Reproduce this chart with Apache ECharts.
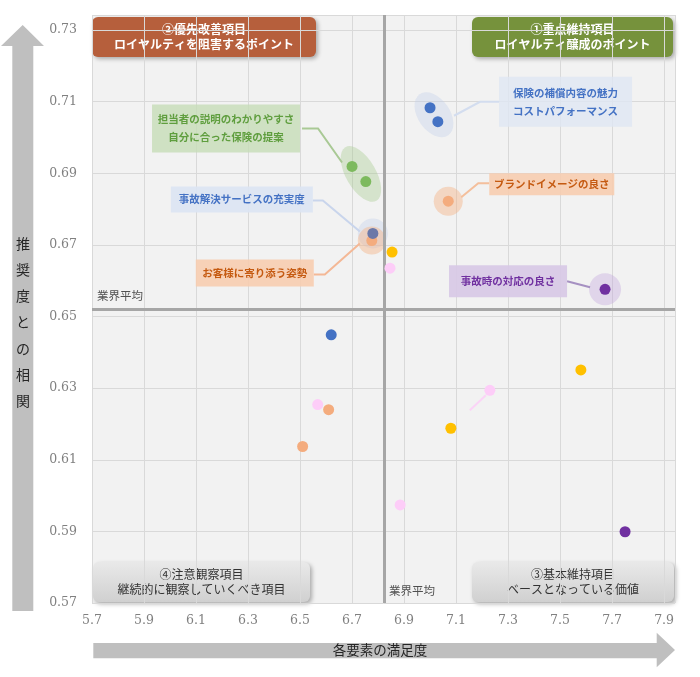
<!DOCTYPE html>
<html>
<head>
<meta charset="utf-8">
<script src="https://cdn.jsdelivr.net/npm/echarts@6/dist/echarts.min.js"></script>
<style>
html, body { margin: 0; padding: 0; background: #fff; }
#main { width: 700px; height: 677px; }
</style>
</head>
<body>
<div id="main"></div>
<script>
// 各要素の満足度 (x) と 推奨度との相関 (y)
var bluePoints = [[7.00, 0.7083], [7.03, 0.7044], [6.62, 0.6449]];
var slatePoints = [[6.78, 0.6732]];
var orangePoints = [[7.07, 0.6822], [6.776, 0.6712], [6.61, 0.6240], [6.51, 0.6137]];
var greenPoints = [[6.70, 0.6919], [6.753, 0.6877]];
var yellowPoints = [[6.854, 0.6680], [7.58, 0.6351], [7.08, 0.6188]];
var pinkPoints = [[6.846, 0.6635], [7.23, 0.6294], [6.568, 0.6254], [6.885, 0.5974]];
var purplePoints = [[7.673, 0.6576], [7.75, 0.5899]];

// 業界平均
var industryAvg = [6.823, 0.6521];

// 軸
var xRange = [5.7, 7.942];
var yRange = [0.57, 0.7342];
var xStep = 0.2;
var yStep = 0.02;

var annoTexts = [
	'担当者の説明のわかりやすさ\n自分に合った保険の提案',
	'事故解決サービスの充実度',
	'お客様に寄り添う姿勢',
	'保険の補償内容の魅力\nコストパフォーマンス',
	'ブランドイメージの良さ',
	'事故時の対応の良さ',
	''
];
var annoAnchors = [greenPoints[0], slatePoints[0], orangePoints[1], bluePoints[0], orangePoints[0], purplePoints[0], pinkPoints[1]];

var quadTitles = [
	'②優先改善項目\nロイヤルティを阻害するポイント',
	'①重点維持項目\nロイヤルティ醸成のポイント',
	'④注意観察項目\n継続的に観察していくべき項目',
	'③基本維持項目\nベースとなっている価値'
];

var CJK = '"Noto Sans CJK JP", sans-serif';

function mid(a, b) {
	return [(a[0] + b[0]) / 2, (a[1] + b[1]) / 2];
}

// 強調の楕円
var halos = [
	{ at: mid(bluePoints[0], bluePoints[1]), size: [32, 50], rotate: 35, color: 'rgba(190,205,232,0.45)' },
	{ at: mid(greenPoints[0], greenPoints[1]), size: [30, 62], rotate: 30, offset: [2, 0], color: 'rgba(160,200,135,0.45)' },
	{ at: slatePoints[0], size: [30, 30], color: 'rgba(190,205,232,0.45)' },
	{ at: orangePoints[1], size: [28, 28], color: 'rgba(244,177,131,0.55)' },
	{ at: orangePoints[0], size: [29, 29], color: 'rgba(244,177,131,0.55)' },
	{ at: purplePoints[0], size: [32, 32], color: 'rgba(190,160,220,0.45)' }
];

// 吹き出しの位置 (点からのピクセル差)
var annoLayout = [
	{ box: [-200, -62, 148, 48], line: [[-50, -38], [-34, -38], [-10, -4]], fill: 'rgba(197,220,182,0.8)', color: '#5f9e3e', stroke: '#a9c995' },
	{ box: [-202, -47, 142, 26], line: [[-60, -33], [-50, -33], [-13, -2]], fill: 'rgba(220,228,243,0.9)', color: '#4472c4', stroke: '#c9d5ec' },
	{ box: [-176, 19, 118, 27], line: [[-58, 34], [-47, 34], [-12, 3]], fill: 'rgba(248,203,173,0.85)', color: '#c55a11', stroke: '#f4b896' },
	{ box: [69, -31, 133, 50], line: [[24, 8], [50, -6], [69, -6]], fill: 'rgba(222,230,243,0.8)', color: '#4472c4', stroke: '#d3ddef' },
	{ box: [41, -28, 125, 22], line: [[13, -4], [30, -18], [41, -18]], fill: 'rgba(248,203,173,0.85)', color: '#c55a11', stroke: '#f4bf9c' },
	{ box: [-156, -24, 118, 32], line: [[-38, -8], [-15, -2]], fill: 'rgba(215,200,230,0.9)', color: '#7030a0', stroke: '#a691c2' },
	{ line: [[-4, 5], [-20, 20]], stroke: 'rgba(255,200,250,0.7)' }
];

function renderAnno(params, api) {
	var a = annoLayout[params.dataIndex];
	var p = api.coord([api.value(0), api.value(1)]);
	var pts = a.line.map(function (d) { return [p[0] + d[0], p[1] + d[1]]; });
	var children = [{
		type: 'polyline',
		shape: { points: pts },
		style: { stroke: a.stroke, lineWidth: 2, fill: null }
	}];
	if (a.box) {
		children.push({
			type: 'rect',
			shape: { x: p[0] + a.box[0], y: p[1] + a.box[1], width: a.box[2], height: a.box[3] },
			style: { fill: a.fill }
		});
		children.push({
			type: 'text',
			style: {
				text: annoTexts[params.dataIndex],
				x: p[0] + a.box[0] + a.box[2] / 2,
				y: p[1] + a.box[1] + a.box[3] / 2,
				align: 'center',
				verticalAlign: 'middle',
				fill: a.color,
				fontSize: 10.5,
				fontWeight: 'bold',
				fontFamily: CJK,
				lineHeight: 18
			}
		});
	}
	return { type: 'group', children: children };
}

function pointSeries(name, data, color) {
	return {
		name: name,
		type: 'scatter',
		data: data,
		symbolSize: 11,
		itemStyle: { color: color, opacity: 1 },
		z: 5
	};
}

function quadBox(left, top, w, h, fill, textColor, bold, text) {
	return {
		type: 'group',
		left: left,
		top: top,
		z: 10,
		children: [{
			type: 'rect',
			shape: { width: w, height: h, r: 6 },
			style: { fill: fill, shadowBlur: 4, shadowOffsetX: 2, shadowOffsetY: 2, shadowColor: 'rgba(0,0,0,0.3)' }
		}, {
			type: 'text',
			style: {
				text: text,
				x: w / 2,
				y: h / 2,
				align: 'center',
				verticalAlign: 'middle',
				fill: textColor,
				fontSize: 12,
				fontWeight: bold ? 'bold' : 'normal',
				fontFamily: CJK,
				lineHeight: 15.5
			}
		}]
	};
}

var grayFill = new echarts.graphic.LinearGradient(0, 0, 0, 1, [
	{ offset: 0, color: '#e9e9e9' },
	{ offset: 1, color: '#d0d0d0' }
]);

var myChart = echarts.init(document.getElementById('main'));

var option = {
	backgroundColor: '#fff',
	animation: false,
	grid: {
		left: 92,
		right: 25,
		top: 15,
		bottom: 74,
		show: true,
		backgroundColor: '#f2f2f2',
		borderWidth: 0
	},
	xAxis: {
		type: 'value',
		min: xRange[0],
		max: xRange[1],
		interval: xStep,
		axisLine: { show: false },
		axisTick: { show: false },
		splitLine: { lineStyle: { color: '#d9d9d9', width: 1 } },
		axisLabel: {
			showMaxLabel: false,
			margin: 11,
			color: '#808080',
			fontFamily: '"DejaVu Serif", serif',
			fontSize: 12.5,
			formatter: function (v) { return v.toFixed(1); }
		}
	},
	yAxis: {
		type: 'value',
		min: yRange[0],
		max: yRange[1],
		interval: yStep,
		axisLine: { show: false },
		axisTick: { show: false },
		splitLine: { lineStyle: { color: '#d9d9d9', width: 1 } },
		axisLabel: {
			showMaxLabel: false,
			margin: 15,
			color: '#808080',
			fontFamily: '"DejaVu Serif", serif',
			fontSize: 12.5,
			formatter: function (v) { return v.toFixed(2); }
		}
	},
	graphic: [
		{
			type: 'polygon',
			z: 1,
			shape: { points: [[12.3, 611], [12.3, 46], [1, 46], [22.7, 25], [44, 46], [33.3, 46], [33.3, 611]] },
			style: { fill: '#bfbfbf' }
		},
		{
			type: 'text',
			z: 2,
			style: {
				text: '推\n奨\n度\nと\nの\n相\n関',
				x: 23,
				y: 322,
				align: 'center',
				verticalAlign: 'middle',
				fill: '#262626',
				fontSize: 14,
				fontFamily: CJK,
				lineHeight: 26.2
			}
		},
		{
			type: 'polygon',
			z: 1,
			shape: { points: [[93.3, 643], [656.7, 643], [656.7, 632.7], [675, 650], [656.7, 667.3], [656.7, 658.3], [93.3, 658.3]] },
			style: { fill: '#bfbfbf' }
		},
		{
			type: 'text',
			z: 2,
			style: {
				text: '各要素の満足度',
				x: 380,
				y: 650,
				align: 'center',
				verticalAlign: 'middle',
				fill: '#262626',
				fontSize: 13.5,
				fontFamily: CJK
			}
		},
		quadBox(92, 17, 224, 40, '#b65f3c', '#fff', true, quadTitles[0]),
		quadBox(472, 17, 201, 40, '#76923c', '#fff', true, quadTitles[1]),
		quadBox(93, 562, 217, 40, grayFill, '#333333', false, quadTitles[2]),
		quadBox(472, 562, 202, 40, grayFill, '#333333', false, quadTitles[3])
	],
	series: [
		{
			name: 'halo',
			type: 'scatter',
			silent: true,
			z: 2,
			data: halos.map(function (h) {
				return {
					value: h.at,
					symbolSize: h.size,
					symbolRotate: h.rotate || 0,
					symbolOffset: h.offset || [0, 0],
					itemStyle: { color: h.color }
				};
			}),
			markLine: {
				silent: true,
				symbol: 'none',
				precision: 4,
				label: { show: false },
				lineStyle: { color: '#a6a6a6', width: 3, type: 'solid' },
				data: [{ xAxis: industryAvg[0] }, { yAxis: industryAvg[1] }]
			}
		},
		{
			name: 'anno',
			type: 'custom',
			z: 3,
			silent: true,
			clip: false,
			renderItem: renderAnno,
			data: annoAnchors
		},
		{
			name: 'avgLabel',
			type: 'scatter',
			silent: true,
			symbolSize: 0,
			z: 4,
			label: {
				show: true,
				formatter: '業界平均',
				color: '#262626',
				fontSize: 11.5,
				fontFamily: CJK
			},
			data: [
				{ value: [xRange[0], industryAvg[1]], label: { position: 'right', distance: 5, offset: [0, -13] } },
				{ value: [industryAvg[0], yRange[0]], label: { position: 'right', distance: 5, offset: [0, -12] } }
			]
		},
		pointSeries('青', bluePoints, '#4472c4'),
		pointSeries('オレンジ', orangePoints, '#f4ac7e'),
		pointSeries('緑', greenPoints, '#7dba5e'),
		pointSeries('黄', yellowPoints, '#ffc000'),
		pointSeries('ピンク', pinkPoints, '#fdcdf8'),
		pointSeries('紫', purplePoints, '#7030a0'),
		pointSeries('事故解決', slatePoints, '#6b78a8')
	]
};

myChart.setOption(option);
</script>
</body>
</html>
